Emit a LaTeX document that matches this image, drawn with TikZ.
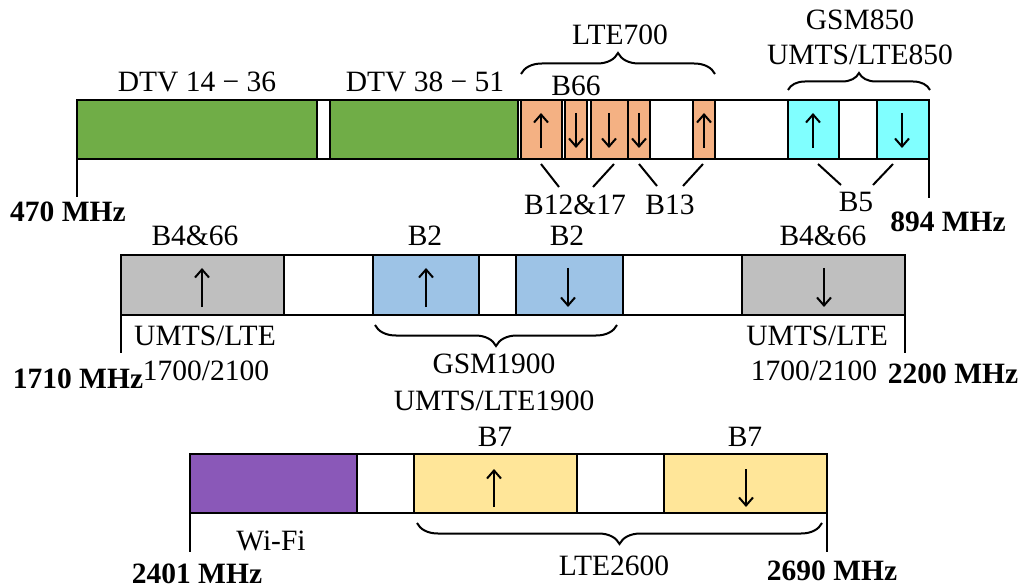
\documentclass[tikz,border=0pt]{standalone}
\usepackage{fontspec}
\setmainfont{Liberation Serif}
\usetikzlibrary{arrows.meta,decorations.pathreplacing}
\definecolor{cgreen}{HTML}{70AD47}
\definecolor{corange}{HTML}{F4B183}
\definecolor{ccyan}{HTML}{80FFFF}
\definecolor{cgray}{HTML}{BFBFBF}
\definecolor{cblue}{HTML}{9DC3E6}
\definecolor{cpurple}{HTML}{8A58B8}
\definecolor{cyellow}{HTML}{FFE699}
\begin{document}
\begin{tikzpicture}[x=1pt,y=-1pt,
  font=\fontsize{29.5}{34}\selectfont,
  band/.style={draw=black, line width=2.5pt},
  arr/.style={-{Straight Barb[length=8pt,width=14pt]}, line width=2pt},
  lbl/.style={anchor=base, inner sep=0pt},
  freq/.style={anchor=base, inner sep=0pt, font=\fontsize{29.5}{34}\selectfont\bfseries},
  tickline/.style={line width=2.5pt},
  pointer/.style={line width=2pt},
  bracedeco/.style={decorate, decoration={brace, amplitude=#1}, line width=2pt}]
\useasboundingbox (0,0) rectangle (1023,588);

% ---------------- Row 1: 470 - 894 MHz ----------------
\draw[band, fill=white] (77,100) rectangle (929,159);
\draw[band, fill=cgreen] (77,100) rectangle (317,159);
\draw[band, fill=cgreen] (330,100) rectangle (518,159);
\draw[band, fill=corange] (521,100) rectangle (562,159);
\draw[band, fill=corange] (565,100) rectangle (587,159);
\draw[band, fill=corange] (591,100) rectangle (628,159);
\draw[band, fill=corange] (628,100) rectangle (650,159);
\draw[band, fill=corange] (693,100) rectangle (715,159);
\draw[band, fill=ccyan] (788,100) rectangle (839,159);
\draw[band, fill=ccyan] (877,100) rectangle (929,159);

\draw[arr] (541,148) -- (541,113);
\draw[arr] (576,113) -- (576,148);
\draw[arr] (609,113) -- (609,148);
\draw[arr] (639,113) -- (639,148);
\draw[arr] (704,148) -- (704,113);
\draw[arr] (813,148) -- (813,113);
\draw[arr] (902,113) -- (902,148);

\coordinate (t1a) at (77,159);  \coordinate (t1b) at (77,197);
\coordinate (t2a) at (929,159); \coordinate (t2b) at (929,198);
\draw[tickline] (t1a) -- (t1b);
\draw[tickline] (t2a) -- (t2b);

\node[lbl] (dtv1) at (197,92) {DTV 14 − 36};
\node[lbl] (dtv2) at (425,92) {DTV 38 − 51};
\node[lbl] (b66) at (576,96) {B66};
\node[lbl] (lte700) at (620,45) {LTE700};
\node[lbl] (gsm850) at (860,30) {GSM850};
\node[lbl] (umts850) at (860,65) {UMTS/LTE850};
\node[lbl] (b1217) at (575,215) {B12\&17};
\node[lbl] (b13) at (670,215) {B13};
\node[lbl] (b5) at (856,212) {B5};
\node[freq] (f470) at (68,222) {470 MHz};
\node[freq] (f894) at (948,232) {894 MHz};

\draw[bracedeco=21pt] (521,74) -- (715,74);
\draw[bracedeco=17pt] (788,90) -- (930,90);

\draw[pointer] (541,164) -- (559,187);
\draw[pointer] (614,164) -- (593,187);
\draw[pointer] (639,164) -- (657,186);
\draw[pointer] (703,164) -- (683,186);
\draw[pointer] (818,164) -- (841,185);
\draw[pointer] (893,164) -- (873,185);

% ---------------- Row 2: 1710 - 2200 MHz ----------------
\draw[band, fill=white] (121,255) rectangle (905,315);
\draw[band, fill=cgray] (121,255) rectangle (284,315);
\draw[band, fill=cblue] (373,255) rectangle (479,315);
\draw[band, fill=cblue] (516,255) rectangle (623,315);
\draw[band, fill=cgray] (742,255) rectangle (905,315);

\draw[arr] (202,307) -- (202,268);
\draw[arr] (426,307) -- (426,268);
\draw[arr] (568,268) -- (568,307);
\draw[arr] (824,268) -- (824,307);

\coordinate (t3a) at (121,315); \coordinate (t3b) at (121,353);
\coordinate (t4a) at (905,315); \coordinate (t4b) at (905,353);
\draw[tickline] (t3a) -- (t3b);
\draw[tickline] (t4a) -- (t4b);

\draw[bracedeco=21pt] (617,325) -- (375,325);

\node[lbl] (b466a) at (195,246) {B4\&66};
\node[lbl] (b2a) at (425,246) {B2};
\node[lbl] (b2b) at (567,246) {B2};
\node[lbl] (b466b) at (823,246) {B4\&66};
\node[lbl] (umtsa) at (205,345) {UMTS/LTE};
\node[lbl] (umtsa2) at (206,380) {1700/2100};
\node[lbl] (umtsb) at (817,345) {UMTS/LTE};
\node[lbl] (umtsb2) at (814,380) {1700/2100};
\node[lbl] (gsm1900) at (494,373) {GSM1900};
\node[lbl] (umts1900) at (494,410) {UMTS/LTE1900};
\node[freq] (f1710) at (78,388) {1710 MHz};
\node[freq] (f2200) at (953,383) {2200 MHz};

% ---------------- Row 3: 2401 - 2690 MHz ----------------
\draw[band, fill=white] (190,454) rectangle (827,513);
\draw[band, fill=cpurple] (190,454) rectangle (357,513);
\draw[band, fill=cyellow] (414,454) rectangle (577,513);
\draw[band, fill=cyellow] (664,454) rectangle (827,513);

\draw[arr] (494,507) -- (494,469);
\draw[arr] (746,469) -- (746,507);

\coordinate (t5a) at (190,513); \coordinate (t5b) at (190,552);
\coordinate (t6a) at (827,513); \coordinate (t6b) at (827,552);
\draw[tickline] (t5a) -- (t5b);
\draw[tickline] (t6a) -- (t6b);

\draw[bracedeco=21pt] (822,523) -- (417,523);

\node[lbl] (b7a) at (495,446) {B7};
\node[lbl] (b7b) at (745,446) {B7};
\node[lbl] (wifi) at (271,550) {Wi-Fi};
\node[lbl] (lte2600) at (614,575) {LTE2600};
\node[freq] (f2401) at (197,583) {2401 MHz};
\node[freq] (f2690) at (832,580) {2690 MHz};
\end{tikzpicture}
\end{document}
